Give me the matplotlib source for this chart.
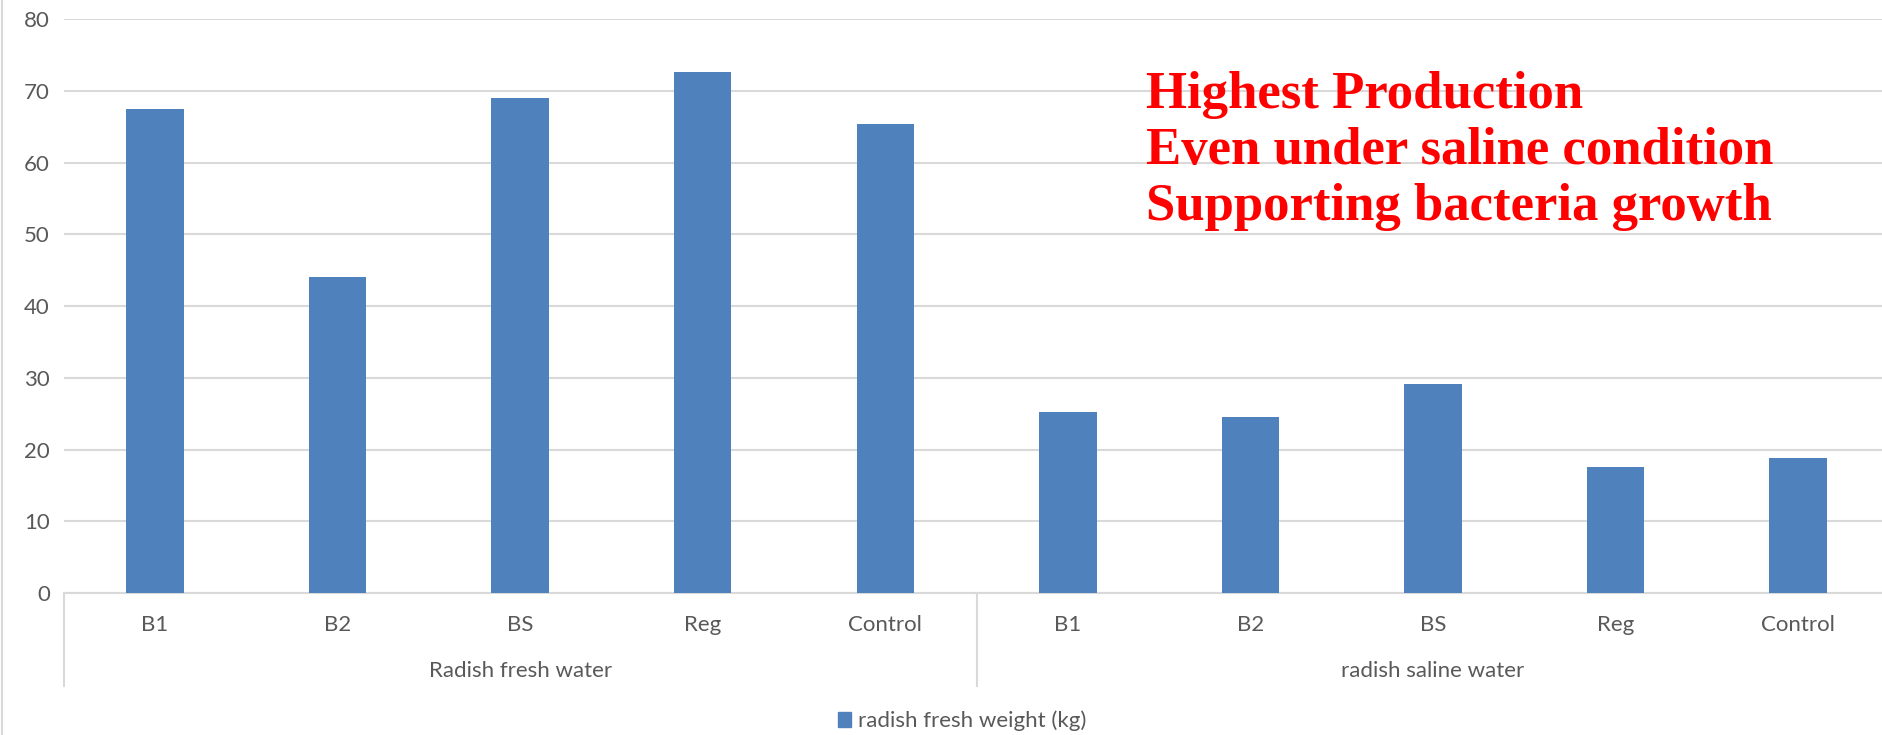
import matplotlib.pyplot as plt
import numpy as np
from matplotlib.lines import Line2D
from matplotlib.patches import Patch

# radish fresh weight per treatment, two water regimes
treatments = ["B1", "B2", "BS", "Reg", "Control"]
groups = ["Radish fresh water", "radish saline water"]
fresh_water = [67.5, 44.0, 69.0, 72.6, 65.4]
saline_water = [25.2, 24.5, 29.1, 17.6, 18.8]
series_name = "radish fresh weight (kg)"
y_ticks = [0, 10, 20, 30, 40, 50, 60, 70, 80]

BLUE = "#4F81BD"
GRID = "#D9D9D9"
TEXT = "#595959"
plt.rcParams['font.family'] = ['Lato', 'DejaVu Sans']

values = fresh_water + saline_water
labels = treatments + treatments
x = np.arange(len(values))

fig = plt.figure(figsize=(18.82, 7.35), dpi=100)
ax = fig.add_axes([0.0339, 0.193, 0.970, 0.781])

ax.bar(x, values, width=0.315, color=BLUE, zorder=3)

ax.set_xlim(-0.5, len(values) - 0.5)
ax.set_ylim(0, 80)
ax.set_yticks(y_ticks)
ax.yaxis.grid(True, color=GRID, linewidth=1.5, zorder=0)
ax.tick_params(axis='y', length=0, pad=10, labelsize=16, labelcolor=TEXT)
ax.set_xticks([])
for s in ["top", "right", "left"]:
    ax.spines[s].set_visible(False)
ax.spines["bottom"].set_color(GRID)
ax.spines["bottom"].set_linewidth(1.5)

# category labels and the two-level axis box below the plot
trans = ax.get_xaxis_transform()
for xi, lab in zip(x, labels):
    ax.text(xi, -0.055, lab, transform=trans, ha="center", va="center",
            fontsize=16, color=TEXT)
for gi, g in enumerate(groups):
    ax.text(gi * 5 + 2, -0.135, g, transform=trans, ha="center", va="center",
            fontsize=16, color=TEXT)
for xb in [-0.5, 4.5]:
    ax.add_line(Line2D([xb, xb], [0, -0.162], transform=trans, color=GRID,
                       linewidth=1.5, clip_on=False))

# chart border on the left edge
fig.add_artist(Line2D([0.0008, 0.0008], [0, 1], transform=fig.transFigure,
                      color=GRID, linewidth=1.5))

fig.legend(handles=[Patch(color=BLUE, label=series_name)],
           loc="center", bbox_to_anchor=(0.511, 0.019), frameon=False,
           fontsize=16, labelcolor=TEXT, handlelength=0.6, handleheight=0.6,
           handletextpad=0.3)

ax.text(0.593, 0.91,
        "Highest Production\nEven under saline condition\nSupporting bacteria growth",
        transform=ax.transAxes, ha="left", va="top", color="red",
        fontsize=38, fontweight="bold", family=['Liberation Serif', 'DejaVu Serif'],
        linespacing=1.22)

fig.savefig("out.png", dpi=100)
